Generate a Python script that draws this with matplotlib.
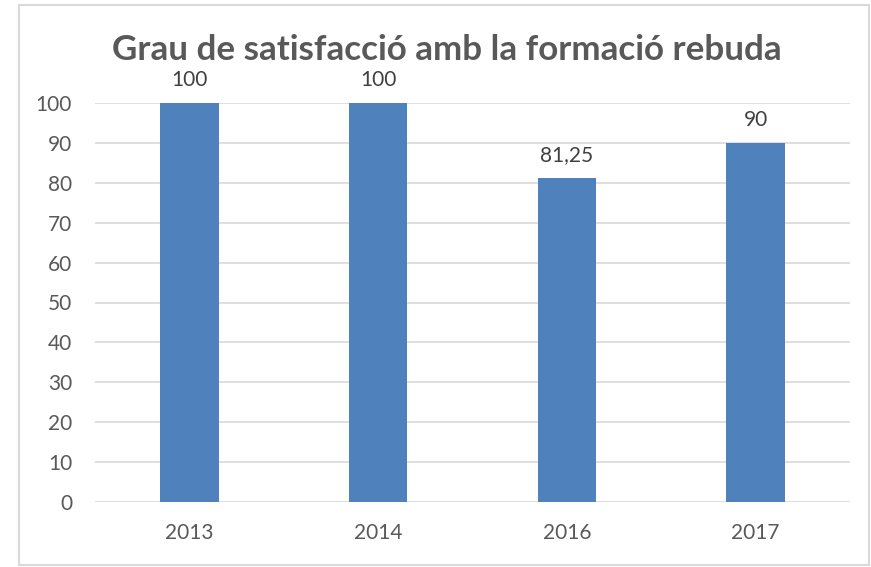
import matplotlib
matplotlib.use("Agg")
import matplotlib.pyplot as plt
from matplotlib.patches import Rectangle

categories = ["2013", "2014", "2016", "2017"]
values = [100, 100, 81.25, 90]
labels = ["100", "100", "81,25", "90"]
yticks = [0, 10, 20, 30, 40, 50, 60, 70, 80, 90, 100]
title = "Grau de satisfacció amb la formació rebuda"

plt.rcParams['font.family'] = ['Lato', 'DejaVu Sans']

fig = plt.figure(figsize=(8.71, 5.67), dpi=100)
fig.patches.append(Rectangle((19/871, 2/567), (869-19)/871, (562-2)/567,
                             transform=fig.transFigure, fill=False,
                             edgecolor="#d9d9d9", linewidth=1.5))

ax = fig.add_axes([95/871, 1-502/567, (850-95)/871, (502-103)/567])
x = range(len(categories))
ax.bar(x, values, width=0.31, color="#4f81bd", zorder=3)
ax.set_xlim(-0.5, len(categories)-0.5)
ax.set_ylim(0, 100)
ax.set_yticks(yticks)
ax.set_yticklabels([str(t) for t in yticks])
ax.set_xticks(list(x))
ax.set_xticklabels(categories)
ax.tick_params(axis='both', length=0, labelsize=15, colors="#595959")
ax.tick_params(axis='x', pad=15)
ax.tick_params(axis='y', pad=16.5)
for s in ax.spines.values():
    s.set_visible(False)
ax.grid(axis='y', color="#d9d9d9", linewidth=1.2, zorder=0)
ax.set_axisbelow(True)
for xi, v, lab in zip(x, values, labels):
    ax.annotate(lab, (xi, v), xytext=(0, 16.5), textcoords='offset points',
                ha='center', va='center', fontsize=15, color="#404040")
fig.text(447/871, 1-50/567, title, ha='center', va='center', fontsize=25.2,
         fontweight='bold', color="#595959")
fig.savefig("out.png", dpi=100)
